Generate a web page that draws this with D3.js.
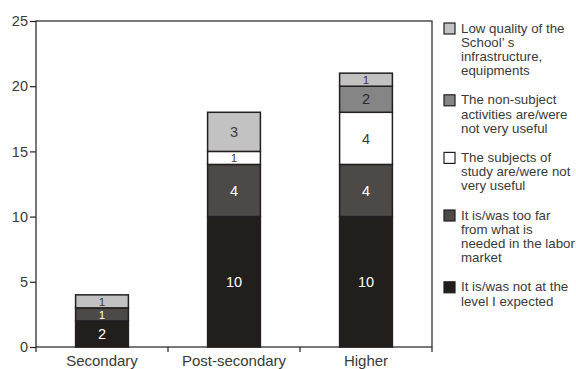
<!DOCTYPE html>
<html>
<head>
<meta charset="utf-8">
<script src="https://cdn.jsdelivr.net/npm/d3@7"></script>
<style>
  html, body { margin: 0; padding: 0; background: #fff; }
  svg { display: block; font-family: "Liberation Sans", Arial, sans-serif; }
</style>
</head>
<body>
<svg id="chart" width="576" height="369"></svg>
<script>
// Education levels on the x axis
const categories = ["Secondary", "Post-secondary", "Higher"];

// Reasons, stacked bottom to top
const notAtLevel   = [2, 10, 10];
const tooFar       = [1, 4, 4];
const notUseful    = [0, 1, 4];
const nonSubject   = [0, 0, 2];
const lowQuality   = [1, 3, 1];

// Legend labels (top to bottom), already broken into lines
const lowQualityLabel = ["Low quality of the", "School\u2019 s", "infrastructure,", "equipments"];
const nonSubjectLabel = ["The non-subject", "activities are/were", "not very useful"];
const notUsefulLabel  = ["The subjects of", "study are/were not", "very useful"];
const tooFarLabel     = ["It is/was too far", "from what is", "needed in the labor", "market"];
const notAtLevelLabel = ["It is/was not at the", "level I expected"];

const yTicks = [0, 5, 10, 15, 20, 25];

const series = [
  { key: "notAtLevel", values: notAtLevel, label: notAtLevelLabel, fill: "#221e1c", text: "#ffffff" },
  { key: "tooFar",     values: tooFar,     label: tooFarLabel,     fill: "#4c4947", text: "#ffffff" },
  { key: "notUseful",  values: notUseful,  label: notUsefulLabel,  fill: "#ffffff", text: "#3a3a3a" },
  { key: "nonSubject", values: nonSubject, label: nonSubjectLabel, fill: "#858585", text: "#2a2a2a" },
  { key: "lowQuality", values: lowQuality, label: lowQualityLabel, fill: "#c2c2c2", text: "#3a3a3a" }
];

const svg = d3.select("#chart");
const plot = { left: 36, right: 432, top: 21, bottom: 347 };
const ink = "#231f20";
const textColor = "#3a3a3a";

const x = d3.scaleBand().domain(categories).range([plot.left, plot.right]).padding(0);
const y = d3.scaleLinear().domain([0, 25]).range([plot.bottom, plot.top]);
const barW = x.bandwidth() * 0.4;

// Stack the series
const rows = categories.map((c, i) => {
  const r = { category: c };
  series.forEach(s => r[s.key] = s.values[i]);
  return r;
});
const stacked = d3.stack().keys(series.map(s => s.key))(rows);

// Bars
const layers = svg.append("g").selectAll("g")
  .data(stacked).join("g");

layers.each(function(layer, li) {
  const s = series[li];
  const g = d3.select(this);
  const segs = layer.filter(d => d[1] - d[0] > 0);
  g.selectAll("rect").data(segs).join("rect")
    .attr("x", d => x(d.data.category) + (x.bandwidth() - barW) / 2)
    .attr("y", d => y(d[1]))
    .attr("width", barW)
    .attr("height", d => y(d[0]) - y(d[1]))
    .attr("fill", s.fill)
    .attr("stroke", ink)
    .attr("stroke-width", 1.5);
});

// Value labels inside each segment; thin segments get a smaller size so they fit
layers.each(function(layer, li) {
  const s = series[li];
  const segs = layer.filter(d => d[1] - d[0] > 0);
  d3.select(this).selectAll("text").data(segs).join("text")
    .attr("x", d => x(d.data.category) + x.bandwidth() / 2)
    .attr("y", d => (y(d[0]) + y(d[1])) / 2)
    .attr("dy", "0.36em")
    .attr("text-anchor", "middle")
    .attr("font-size", d => (y(d[0]) - y(d[1]) < 16 ? 11.5 : 14.5))
    .attr("fill", s.text)
    .text(d => d[1] - d[0]);
});

// Plot frame
svg.append("rect")
  .attr("x", plot.left).attr("y", plot.top)
  .attr("width", plot.right - plot.left).attr("height", plot.bottom - plot.top)
  .attr("fill", "none").attr("stroke", ink).attr("stroke-width", 1.2);

// Y axis
const yAxis = svg.append("g")
  .attr("transform", `translate(${plot.left},0)`)
  .call(d3.axisLeft(y).tickValues(yTicks).tickSize(6).tickPadding(2));
yAxis.select(".domain").remove();
yAxis.selectAll(".tick line").attr("stroke", ink).attr("stroke-width", 1.2);
yAxis.selectAll(".tick text")
  .attr("font-size", 14.5).attr("fill", textColor)
  .attr("font-family", "Liberation Sans, Arial, sans-serif");

// X axis: ticks at band boundaries, labels centred in bands
const boundaries = categories.map(c => x(c)).concat([plot.right]);
svg.append("g").selectAll("line").data(boundaries).join("line")
  .attr("x1", d => d).attr("x2", d => d)
  .attr("y1", plot.bottom).attr("y2", plot.bottom + 5)
  .attr("stroke", ink).attr("stroke-width", 1.2);
svg.append("g").selectAll("text").data(categories).join("text")
  .attr("x", d => x(d) + x.bandwidth() / 2)
  .attr("y", 365.5)
  .attr("text-anchor", "middle")
  .attr("font-size", 15)
  .attr("fill", textColor)
  .text(d => d);

// Legend, top entry is the top of the stack
const legend = svg.append("g");
const lineH = 14.2, gap = 15, sq = 11;
let base = 32.5;
series.slice().reverse().forEach(s => {
  const g = legend.append("g");
  g.append("rect")
    .attr("x", 444).attr("y", base - 9.5)
    .attr("width", sq).attr("height", sq)
    .attr("fill", s.fill).attr("stroke", ink).attr("stroke-width", 1.2);
  const t = g.append("text")
    .attr("font-size", 13.3).attr("fill", textColor);
  s.label.forEach((ln, i) => {
    t.append("tspan").attr("x", 461).attr("y", base + i * lineH).text(ln);
  });
  base += s.label.length * lineH + gap;
});
</script>
</body>
</html>
